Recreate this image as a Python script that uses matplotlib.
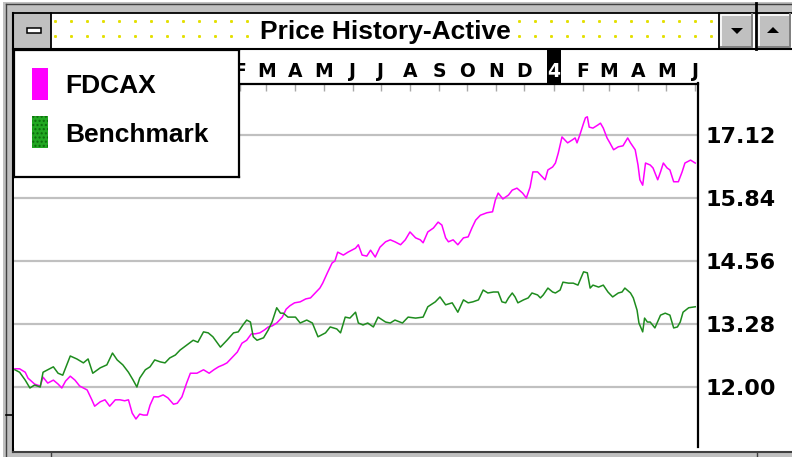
import numpy as np
import matplotlib
matplotlib.use("Agg")
import matplotlib.pyplot as plt
from matplotlib.patches import Rectangle, Polygon
from matplotlib.transforms import blended_transform_factory
import matplotlib.dates as mdates

W, H = 792, 457

# day offsets from the start date
START = np.datetime64("1992-06-01")

fdcax_days = [5, 10, 16, 19, 26, 32, 35, 40, 46, 51,
              55, 59, 64, 69, 74, 82, 87, 90, 96, 101,
              106, 112, 117, 122, 126, 130, 134, 138, 142, 146,
              149, 153, 158, 163, 168, 174, 178, 183, 188, 192,
              199, 206, 212, 217, 222, 227, 231, 236, 242, 247,
              252, 257, 261, 266, 271, 275, 279, 284, 290, 294,
              298, 303, 309, 315, 320, 326, 330, 333, 338, 343,
              346, 349, 355, 360, 368, 371, 375, 380, 384, 389,
              394, 400, 405, 410, 416, 421, 426, 432, 437, 440,
              445, 451, 456, 460, 464, 467, 472, 477, 483, 488,
              492, 496, 501, 508, 514, 517, 520, 525, 531, 535,
              540, 546, 550, 554, 557, 562, 567, 570, 573, 578,
              581, 584, 588, 594, 599, 602, 604, 607, 611, 613,
              615, 617, 621, 626, 629, 632, 636, 639, 643, 648,
              653, 658, 661, 666, 669, 671, 674, 677, 682, 685,
              690, 693, 696, 700, 703, 707, 712, 716, 719, 725, 730]
fdcax_vals = [12.37, 12.37, 12.30, 12.18, 12.06, 12.02, 12.20, 12.08, 12.14, 12.06,
              11.98, 12.12, 12.22, 12.14, 12.02, 11.94, 11.74, 11.61, 11.70, 11.74,
              11.61, 11.74, 11.74, 11.72, 11.74, 11.47, 11.35, 11.45, 11.43, 11.43,
              11.63, 11.80, 11.80, 11.84, 11.78, 11.65, 11.67, 11.80, 12.08, 12.28,
              12.28, 12.35, 12.28, 12.35, 12.41, 12.45, 12.49, 12.59, 12.71, 12.89,
              12.95, 13.08, 13.08, 13.10, 13.16, 13.22, 13.24, 13.30, 13.42, 13.58,
              13.65, 13.71, 13.73, 13.79, 13.81, 13.93, 14.01, 14.11, 14.32, 14.52,
              14.56, 14.74, 14.68, 14.74, 14.82, 14.89, 14.68, 14.66, 14.78, 14.64,
              14.84, 14.95, 14.99, 14.95, 14.89, 14.99, 15.15, 15.03, 14.99, 14.93,
              15.15, 15.23, 15.35, 15.29, 15.03, 14.95, 14.99, 14.89, 15.03, 15.05,
              15.23, 15.39, 15.49, 15.54, 15.56, 15.80, 15.94, 15.82, 15.90, 16.00,
              16.04, 15.94, 15.84, 16.06, 16.37, 16.37, 16.27, 16.21, 16.41, 16.47,
              16.55, 16.75, 17.08, 16.96, 17.02, 17.06, 16.96, 17.12, 17.36, 17.47,
              17.49, 17.28, 17.26, 17.32, 17.36, 17.26, 17.06, 16.96, 16.82, 16.88,
              16.90, 17.06, 16.96, 16.82, 16.51, 16.21, 16.10, 16.55, 16.51, 16.45,
              16.21, 16.37, 16.55, 16.45, 16.41, 16.17, 16.17, 16.37, 16.55, 16.61, 16.55]

bench_days = [5, 10, 16, 21, 26, 32, 35, 40, 46, 51,
              56, 64, 71, 78, 83, 88, 96, 103, 109, 114,
              120, 126, 131, 135, 138, 144, 149, 154, 160, 165,
              170, 176, 181, 188, 195, 200, 206, 211, 216, 224,
              231, 238, 243, 248, 252, 256, 259, 263, 270, 275,
              279, 284, 288, 291, 296, 304, 309, 316, 322, 328,
              336, 341, 348, 352, 357, 362, 368, 371, 376, 381,
              387, 392, 400, 405, 410, 418, 424, 432, 440, 445,
              453, 458, 464, 471, 477, 483, 488, 493, 499, 504,
              509, 515, 520, 524, 528, 531, 535, 538, 541, 547,
              552, 556, 562, 565, 568, 573, 578, 581, 586, 589,
              595, 600, 605, 611, 615, 618, 621, 627, 632, 637,
              642, 645, 648, 652, 655, 661, 664, 668, 670, 674,
              676, 679, 682, 687, 693, 698, 703, 707, 711, 714,
              717, 723, 730]
bench_vals = [12.35, 12.30, 12.14, 11.98, 12.04, 12.00, 12.30, 12.35, 12.41, 12.28,
              12.24, 12.63, 12.57, 12.49, 12.57, 12.28, 12.39, 12.45, 12.69, 12.55,
              12.45, 12.30, 12.14, 12.00, 12.18, 12.35, 12.41, 12.55, 12.51, 12.49,
              12.59, 12.65, 12.75, 12.85, 12.95, 12.91, 13.12, 13.10, 13.02, 12.81,
              12.95, 13.10, 13.12, 13.26, 13.36, 13.32, 13.02, 12.95, 13.00, 13.16,
              13.32, 13.61, 13.50, 13.50, 13.42, 13.42, 13.30, 13.36, 13.30, 13.02,
              13.10, 13.22, 13.18, 13.10, 13.42, 13.40, 13.52, 13.30, 13.26, 13.30,
              13.22, 13.42, 13.32, 13.30, 13.36, 13.30, 13.42, 13.40, 13.42, 13.63,
              13.73, 13.83, 13.67, 13.71, 13.52, 13.77, 13.71, 13.73, 13.77, 13.97,
              13.91, 13.93, 13.93, 13.73, 13.71, 13.81, 13.91, 13.83, 13.71, 13.77,
              13.81, 13.91, 13.87, 13.81, 13.87, 14.01, 13.93, 13.91, 13.97, 14.13,
              14.11, 14.11, 14.07, 14.34, 14.32, 14.01, 14.07, 14.03, 14.07, 13.93,
              13.83, 13.87, 13.91, 13.93, 14.01, 13.91, 13.81, 13.56, 13.30, 13.12,
              13.40, 13.32, 13.32, 13.20, 13.46, 13.50, 13.46, 13.20, 13.22, 13.32,
              13.52, 13.61, 13.63]

y_ticks = [12.00, 13.28, 14.56, 15.84, 17.12]
series_names = ["FDCAX", "Benchmark"]
title = "Price History-Active"
first_labeled_month = np.datetime64("1993-02")  # earlier months sit under the legend

MAGENTA = "#ff00ff"
GREEN = "#1e8c1e"
GRAY = "#c0c0c0"
DARK = "#404040"


def to_dates(days):
    return START + np.array(days, dtype="timedelta64[D]")


def box(left, top, right, bottom):
    # pixel rectangle -> figure fraction
    return [left / W, 1 - bottom / H, (right - left) / W, (bottom - top) / H]


fig = plt.figure(figsize=(W / 100, H / 100), dpi=100)
fig.patch.set_facecolor("white")

# window chrome drawn in pixel units
chrome = fig.add_axes([0, 0, 1, 1])
chrome.set_xlim(0, W)
chrome.set_ylim(H, 0)
chrome.axis("off")

# dotted title bar background
dx = np.arange(55, 712, 16)
for dy in (20.7, 36.0):
    chrome.plot(dx, np.full_like(dx, dy, dtype=float), ls="none", marker="s",
                ms=1.1, color="#e4e000", zorder=1)
chrome.text(385, 39.3, title, ha="center", va="baseline", fontsize=19,
            fontweight="bold", family="Liberation Sans", zorder=1.5,
            bbox=dict(facecolor="white", edgecolor="none", boxstyle="square,pad=0.3"))

# outer gray frame
chrome.add_patch(Rectangle((3, 2), W - 3, 10.5, fc=GRAY, ec="none", zorder=2))
chrome.add_patch(Rectangle((3, 2), 9.5, H - 2, fc=GRAY, ec="none", zorder=2))
chrome.add_patch(Rectangle((3, 451), W - 3, 6, fc=GRAY, ec="none", zorder=2))
chrome.plot([6, W], [3.5, 3.5], color=DARK, lw=1, zorder=3)
chrome.plot([6, 6], [3.5, H], color=DARK, lw=1, zorder=3)
chrome.plot([12.8, W], [12.5, 12.5], color="black", lw=1.3, zorder=3)
chrome.plot([12.8, 12.8], [12.5, 451.5], color="black", lw=1.5, zorder=3)
chrome.plot([12.8, W], [451.5, 451.5], color=DARK, lw=1.5, zorder=3)
chrome.plot([6, 12.5], [415, 415], color="black", lw=1.2, zorder=3)
chrome.plot([50.5, 50.5], [451.5, H], color=DARK, lw=1, zorder=3)
chrome.plot([757, 757], [451.5, H], color=DARK, lw=1, zorder=3)
chrome.plot([12.8, W], [48.5, 48.5], color="black", lw=1.5, zorder=3)

# control-menu button
chrome.add_patch(Rectangle((13, 13), 37.5, 35, fc=GRAY, ec="none", zorder=2))
chrome.plot([50.5, 50.5], [12.5, 48.5], color="black", lw=1.3, zorder=3)
chrome.add_patch(Rectangle((27, 27.5), 14, 5.5, fc="white", ec="black", lw=1.1, zorder=3))

# scroll buttons on the right
for bx in (719.5, 757.5):
    chrome.add_patch(Rectangle((bx, 13), 33, 35, fc=GRAY, ec="none", zorder=2))
    chrome.plot([bx + 1, bx + 1, bx + 31], [46, 14.5, 14.5], color="white", lw=1.2, zorder=3)
    chrome.plot([bx + 1, bx + 32, bx + 32], [46.5, 46.5, 14], color="#808080", lw=1.4, zorder=3)
chrome.plot([718.5, 718.5], [12.5, 48.5], color="black", lw=1.3, zorder=3)
chrome.plot([756, 756], [3, 48.5], color="black", lw=2, zorder=3)
chrome.add_patch(Polygon([(731, 28), (743, 28), (737, 34)], closed=True, fc="black", ec="none", zorder=4))
chrome.add_patch(Polygon([(767, 33), (779, 33), (773, 27)], closed=True, fc="black", ec="none", zorder=4))

# main plot
ax = fig.add_axes(box(14, 83.5, 697.5, 447.5))
ax.plot(to_dates(fdcax_days), fdcax_vals, color=MAGENTA, lw=1.1, zorder=3)
ax.plot(to_dates(bench_days), bench_vals, color=GREEN, lw=1.1, zorder=3)

x0 = mdates.date2num(START)
ax.set_xlim(x0 + 4.05, x0 + 732.4)
ax.set_ylim(10.771, 18.166)

for side in ("left", "bottom"):
    ax.spines[side].set_visible(False)
for side in ("top", "right"):
    ax.spines[side].set_color("black")
    ax.spines[side].set_linewidth(1.6)

# month header along the top
months = np.arange(np.datetime64("1992-07"), np.datetime64("1994-07"), dtype="datetime64[M]")
month_days = months.astype("datetime64[D]")
month_labels = []
for m in months:
    year = m.astype("datetime64[Y]").astype(int) + 1970
    mon = m.astype(int) % 12
    if m < first_labeled_month:
        month_labels.append("")
    else:
        month_labels.append(str(year % 10) if mon == 0 else "JFMAMJJASOND"[mon])

ax.xaxis.tick_top()
ax.set_xticks(mdates.date2num(month_days), month_labels, fontsize=13.5, fontweight="bold")
ax.tick_params(axis="x", direction="in", length=5, width=1, color="#a8a8a8", pad=2)

trans = blended_transform_factory(ax.transData, ax.transAxes)
for d, lab, tl in zip(month_days, month_labels, ax.get_xticklabels()):
    if lab.isdigit():
        xc = mdates.date2num(d)
        ax.add_patch(Rectangle((xc - 7.5, 1.0), 15, 35 / 364, transform=trans,
                               fc="black", ec="none", clip_on=False, zorder=0.5))
        tl.set_color("white")

ax.yaxis.tick_right()
ax.set_yticks(y_ticks, [f"{v:.2f}" for v in y_ticks], fontsize=16, fontweight="bold")
ax.tick_params(axis="y", length=0, pad=5.5)
ax.grid(axis="y", color=GRAY, lw=1.6)
ax.set_axisbelow(True)

# legend box
lg = fig.add_axes(box(14, 50, 239, 177))
lg.set_xlim(0, 225)
lg.set_ylim(127, 0)
lg.set_xticks([])
lg.set_yticks([])
lg.set_facecolor("white")
for s in lg.spines.values():
    s.set_color("black")
    s.set_linewidth(1.6)
lg.add_patch(Rectangle((18, 18), 16, 32, fc=MAGENTA, ec="none"))
lg.add_patch(Rectangle((18, 66), 16, 32, fc="#22a822", ec="#0c6a0c", lw=0, hatch="...."))
lg.text(51, 43.5, series_names[0], va="baseline", fontsize=19, fontweight="bold",
        family="Liberation Sans")
lg.text(51, 92, series_names[1], va="baseline", fontsize=19, fontweight="bold",
        family="Liberation Sans")

fig.savefig("out.png", dpi=100)
